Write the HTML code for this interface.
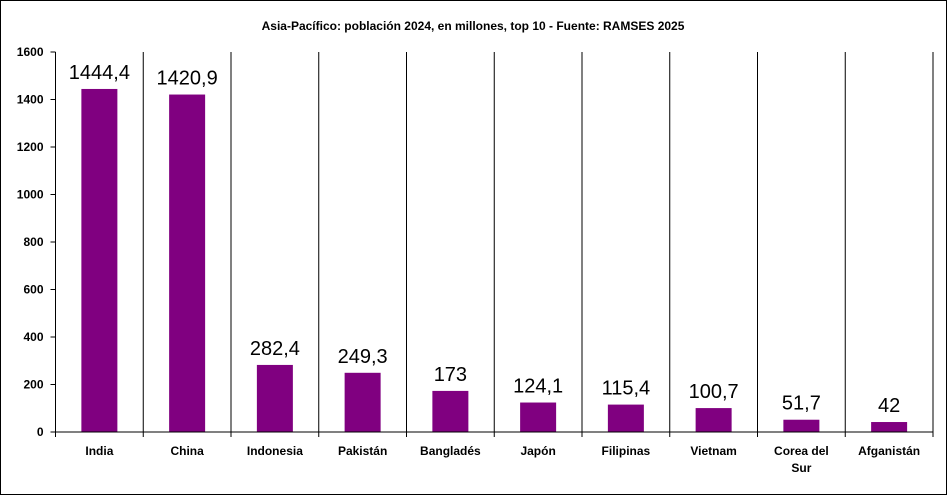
<!DOCTYPE html>
<html><head><meta charset="utf-8"><style>
body{margin:0;background:#fff}
svg{display:block;font-family:"Liberation Sans",Arial,sans-serif}
</style></head><body>
<svg id="c" width="947" height="495">
<rect x="0.5" y="0.5" width="946" height="494" fill="#fff" stroke="#000"/>
<text x="473" y="30" text-anchor="middle" font-size="12" font-weight="bold">Asia-Pacífico: población 2024, en millones, top 10 - Fuente: RAMSES 2025</text>
</svg>
<script>
const categories=["India","China","Indonesia","Pakistán","Bangladés","Japón","Filipinas","Vietnam","Corea del|Sur","Afganistán"];
const values=[1444.4,1420.9,282.4,249.3,173,124.1,115.4,100.7,51.7,42];
const valueLabels=["1444,4","1420,9","282,4","249,3","173","124,1","115,4","100,7","51,7","42"];
const yTicks=[0,200,400,600,800,1000,1200,1400,1600];
const svg=document.getElementById('c');
const NS='http://www.w3.org/2000/svg';
const L=55.5,R=933,T=52,B=432,yMax=1600;
const bw=(R-L)/categories.length;
const y=v=>B-(v/yMax)*(B-T);
const x=i=>L+i*bw;
function mk(t,a){const e=document.createElementNS(NS,t);for(const k in a)e.setAttribute(k,a[k]);svg.appendChild(e);return e;}
for(let i=1;i<=categories.length;i++){
 const g=mk('line',{x1:x(i),x2:x(i),y1:T,y2:B+5,stroke:'#000'});
 
 
}
yTicks.forEach(t=>{
 const k=mk('line',{x1:L-5,x2:L,y1:y(t),y2:y(t),stroke:'#000'});
 
 
 const l=mk('text',{x:L-12,y:y(t)+4,'text-anchor':'end','font-size':'12','font-weight':'bold'});
 l.textContent=t;
 
 
});
values.forEach((v,i)=>{
 const cx=x(i)+bw/2;
 const r=mk('rect',{x:cx-18,y:y(v),width:36,height:B-y(v),fill:'#800080'});
 
 
 const t=mk('text',{x:cx,y:y(v)-10,'text-anchor':'middle','font-size':'20'});
 t.textContent=valueLabels[i];
 
 
 const parts=categories[i].split('|');
 parts.forEach((p,j)=>{
  const c=mk('text',{x:cx,y:455+j*17,'text-anchor':'middle','font-size':'12','font-weight':'bold'});
  c.textContent=p;
  
  
 });
});
const ya=mk('line',{x1:L,x2:L,y1:T,y2:B,stroke:'#000'});


const xa=mk('line',{x1:L,x2:R,y1:B,y2:B,stroke:'#000'});


const x0=mk('line',{x1:L,x2:L,y1:B,y2:B+5,stroke:'#000'});


</script>
</body></html>
